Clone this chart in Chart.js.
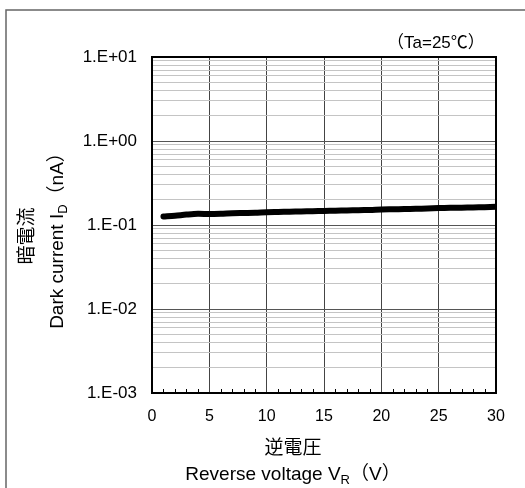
<!DOCTYPE html>
<html>
<head>
<meta charset="utf-8">
<script src="https://cdn.jsdelivr.net/npm/chart.js@4/dist/chart.umd.min.js"></script>
<style>
  html,body{margin:0;padding:0;background:#fff;}
  #wrap{position:relative;width:525px;height:488px;overflow:hidden;}
  canvas{position:absolute;left:0;top:0;}
  .t{position:absolute;font-family:"Liberation Sans","Noto Sans CJK JP",sans-serif;color:#000;white-space:nowrap;text-align:center;}
  .jp{font-family:"Noto Sans CJK JP",sans-serif;font-size:19px;}
  .en{font-size:19px;}
  sub{font-size:13px;vertical-align:-4px;line-height:0;}
</style>
</head>
<body>
<div id="wrap">
  <canvas id="c" width="525" height="488"></canvas>
  <div class="t" style="left:387px;top:28px;font-size:17px;">（Ta=25℃）</div>
  <div class="t" id="ytitle" style="left:41px;top:236px;width:300px;line-height:32px;transform:translate(-50%,-50%) rotate(-90deg);">
    <div class="jp">暗電流</div>
    <div class="en">Dark current I<sub>D</sub>（nA）</div>
  </div>
  <div class="t" style="left:293px;top:460px;width:300px;line-height:28px;transform:translate(-50%,-50%);">
    <div class="jp">逆電圧</div>
    <div class="en">Reverse voltage V<sub>R</sub>（V）</div>
  </div>
</div>
<script>
// Data
const reverseVoltage = [1,2,3,4,5,6,7,8,9,10,11,12,13,14,15,16,17,18,19,20,21,22,23,24,25,26,27,28,29,30];
const darkCurrent = [0.126,0.129,0.133,0.136,0.135,0.136,0.138,0.139,0.140,0.142,0.143,0.144,0.145,0.146,0.147,0.148,0.149,0.150,0.151,0.153,0.154,0.155,0.156,0.157,0.159,0.160,0.161,0.162,0.163,0.165];
const xTickValues = [0,5,10,15,20,25,30];
const yTickValues = [0.001,0.01,0.1,1,10];
const yTickLabels = ['1.E-03','1.E-02','1.E-01','1.E+00','1.E+01'];
const yMinorMantissas = [2,3,4,5,6,7,8,9];

const framePlugin = {
  id:'frame',
  afterDraw(chart){
    const {ctx, chartArea:a, scales} = chart;
    ctx.save();
    // outer figure frame (left and top)
    ctx.strokeStyle='#666'; ctx.lineWidth=1.5;
    ctx.beginPath(); ctx.moveTo(6,488); ctx.lineTo(6,10); ctx.lineTo(525,10); ctx.stroke();
    // minor x ticks, inward
    ctx.strokeStyle='#000'; ctx.lineWidth=1;
    for(let v=0; v<=30; v++){
      if(v%5===0) continue;
      const px=Math.round(scales.x.getPixelForValue(v))+0.5;
      ctx.beginPath(); ctx.moveTo(px,a.bottom); ctx.lineTo(px,a.bottom-4); ctx.stroke();
    }
    // plot frame
    ctx.strokeStyle='#000'; ctx.lineWidth=2;
    ctx.strokeRect(a.left, a.top, a.right-a.left, a.bottom-a.top);
    ctx.restore();
  }
};

new Chart(document.getElementById('c'), {
  type:'line',
  data:{
    datasets:[{
      data: reverseVoltage.map((x,i)=>({x:x, y:darkCurrent[i]})),
      borderColor:'#000', borderWidth:6, pointRadius:0, tension:0.3,
      borderCapStyle:'round', fill:false
    }]
  },
  options:{
    responsive:false, animation:false, devicePixelRatio:1,
    layout:{padding:{left:0, top:57, right:29, bottom:0}},
    plugins:{legend:{display:false}, tooltip:{enabled:false}},
    scales:{
      x:{
        type:'linear', min:0, max:30,
        afterBuildTicks(s){ s.ticks = xTickValues.map(v=>({value:v})); },
        afterFit(s){ s.height = 95; },
        border:{display:false},
        grid:{color:'#444', lineWidth:1, drawTicks:false},
        ticks:{color:'#000', font:{family:'Liberation Sans', size:16}, padding:14, maxRotation:0}
      },
      y:{
        type:'logarithmic', min:0.001, max:10,
        afterBuildTicks(s){
          const t=[];
          yTickValues.forEach((v,i)=>{
            t.push({value:v});
            if(i<yTickValues.length-1) yMinorMantissas.forEach(m=>t.push({value:+(m*v).toPrecision(3)}));
          });
          s.ticks=t;
        },
        afterFit(s){ s.width = 152; },
        border:{display:false},
        grid:{
          drawTicks:false, lineWidth:1,
          color(ctx){
            const v = ctx.tick ? ctx.tick.value : 0;
            return yTickValues.some(p=>Math.abs(p-v)<p*1e-6) ? '#555' : '#c4c4c4';
          }
        },
        ticks:{
          color:'#000', font:{family:'Liberation Sans', size:17}, padding:15, autoSkip:false,
          callback(v){
            const i = yTickValues.findIndex(p=>Math.abs(p-v)<p*1e-6);
            return i>=0 ? yTickLabels[i] : '';
          }
        }
      }
    }
  },
  plugins:[framePlugin]
});
</script>
</body>
</html>
